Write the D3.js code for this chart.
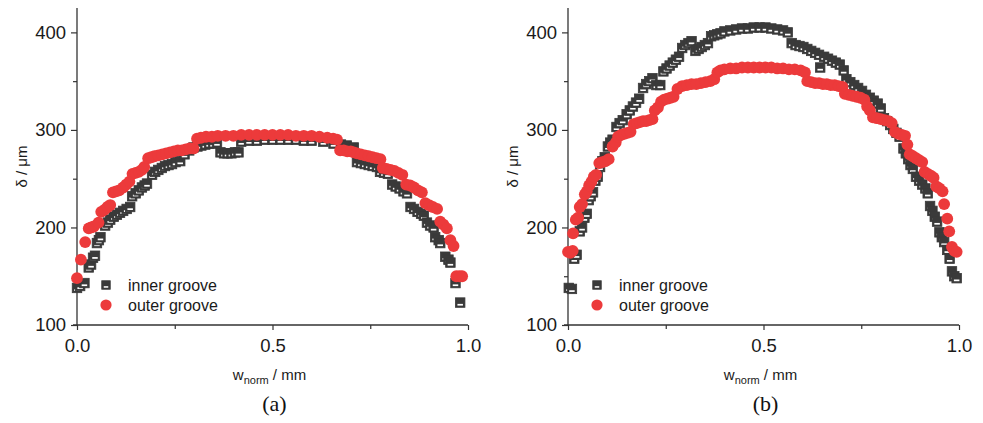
<!DOCTYPE html>
<html>
<head>
<meta charset="utf-8">
<script src="https://cdn.jsdelivr.net/npm/d3@7"></script>
<style>
  html, body { margin: 0; padding: 0; background: #fff; }
  svg { display: block; }
</style>
</head>
<body>
<svg id="chart" width="983" height="423"></svg>
<script>
// Groove depth profiles: [normalised width, depth in µm]
const innerA = [[0.000,138],[0.008,140],[0.019,143],[0.030,159],[0.036,162],[0.041,169],[0.046,171],[0.051,184],[0.056,187],[0.060,190],[0.072,202],[0.079,205],[0.085,208],[0.094,211],[0.102,213],[0.110,215],[0.118,217],[0.127,219],[0.136,221],[0.141,232],[0.150,235],[0.158,238],[0.166,241],[0.173,243],[0.179,245],[0.192,254],[0.200,257],[0.208,259],[0.217,261],[0.225,263],[0.234,264],[0.243,265],[0.252,267],[0.264,268],[0.275,275],[0.287,279],[0.298,282],[0.308,283],[0.318,284],[0.328,285],[0.338,286],[0.348,286],[0.358,287],[0.367,277],[0.376,276],[0.385,276],[0.395,276],[0.404,277],[0.413,277],[0.420,288],[0.440,289],[0.460,289],[0.480,290],[0.500,290],[0.520,290],[0.540,290],[0.560,290],[0.580,289],[0.600,289],[0.630,288],[0.656,286],[0.675,285],[0.690,284],[0.708,282],[0.716,267],[0.726,266],[0.736,265],[0.746,264],[0.756,263],[0.767,262],[0.775,257],[0.785,256],[0.795,255],[0.806,244],[0.815,242],[0.825,240],[0.835,237],[0.844,235],[0.853,221],[0.862,219],[0.871,216],[0.880,214],[0.887,212],[0.895,205],[0.903,202],[0.912,200],[0.916,190],[0.925,187],[0.929,184],[0.942,170],[0.950,167],[0.955,164],[0.968,143],[0.980,123]];

const outerA = [[0.000,148],[0.010,167],[0.021,185],[0.030,199],[0.036,200],[0.043,201],[0.055,205],[0.062,216],[0.070,218],[0.078,221],[0.085,223],[0.092,236],[0.100,237],[0.108,238],[0.118,241],[0.126,244],[0.134,247],[0.142,255],[0.150,256],[0.158,257],[0.166,259],[0.172,262],[0.182,271],[0.190,272],[0.198,273],[0.208,274],[0.218,275],[0.228,276],[0.238,277],[0.248,278],[0.258,279],[0.268,279],[0.278,280],[0.288,281],[0.298,281],[0.307,291],[0.317,292],[0.330,293],[0.345,293],[0.360,294],[0.380,294],[0.400,294],[0.420,295],[0.440,295],[0.460,295],[0.480,295],[0.500,295],[0.520,295],[0.540,295],[0.560,294],[0.580,294],[0.600,294],[0.620,293],[0.640,292],[0.655,291],[0.665,290],[0.673,279],[0.682,279],[0.691,278],[0.700,278],[0.708,277],[0.716,276],[0.726,275],[0.736,274],[0.746,273],[0.756,272],[0.766,271],[0.776,270],[0.782,261],[0.792,260],[0.802,259],[0.812,258],[0.822,256],[0.832,254],[0.842,244],[0.852,243],[0.862,241],[0.872,238],[0.882,236],[0.891,225],[0.900,223],[0.910,221],[0.921,219],[0.929,206],[0.937,203],[0.946,199],[0.955,187],[0.963,181],[0.970,150],[0.978,150],[0.985,150]];

const innerB = [[0.002,138],[0.010,137],[0.016,168],[0.022,172],[0.030,196],[0.036,200],[0.042,210],[0.048,214],[0.053,228],[0.058,232],[0.064,236],[0.070,248],[0.076,252],[0.082,262],[0.088,268],[0.094,272],[0.102,283],[0.108,287],[0.114,290],[0.124,303],[0.132,307],[0.140,310],[0.150,316],[0.158,320],[0.166,324],[0.174,328],[0.182,332],[0.192,343],[0.200,347],[0.208,350],[0.216,353],[0.226,346],[0.236,346],[0.244,360],[0.252,363],[0.260,366],[0.268,369],[0.276,372],[0.284,375],[0.292,384],[0.300,387],[0.308,389],[0.316,391],[0.326,381],[0.334,383],[0.342,385],[0.350,387],[0.358,389],[0.366,396],[0.374,397],[0.382,398],[0.390,399],[0.400,401],[0.415,402],[0.430,403],[0.445,404],[0.460,404],[0.475,405],[0.490,405],[0.505,405],[0.520,404],[0.535,403],[0.550,402],[0.562,400],[0.572,389],[0.582,387],[0.592,386],[0.602,385],[0.612,383],[0.622,381],[0.632,379],[0.642,377],[0.645,364],[0.655,375],[0.665,373],[0.675,371],[0.685,369],[0.695,367],[0.705,361],[0.712,352],[0.722,349],[0.732,346],[0.742,343],[0.752,340],[0.762,336],[0.772,333],[0.782,330],[0.792,327],[0.800,322],[0.808,312],[0.816,309],[0.824,305],[0.832,301],[0.840,297],[0.848,293],[0.858,281],[0.864,276],[0.870,270],[0.876,264],[0.882,260],[0.890,252],[0.898,248],[0.906,244],[0.914,240],[0.920,235],[0.926,222],[0.932,217],[0.938,211],[0.944,206],[0.950,195],[0.956,190],[0.962,185],[0.970,177],[0.976,168],[0.982,155],[0.988,150],[0.994,148]];

const outerB = [[0.000,175],[0.006,174],[0.012,176],[0.013,194],[0.020,208],[0.026,210],[0.030,221],[0.036,224],[0.043,234],[0.048,237],[0.054,243],[0.060,247],[0.066,252],[0.072,254],[0.080,266],[0.088,267],[0.096,268],[0.104,270],[0.114,283],[0.122,287],[0.128,293],[0.136,295],[0.144,296],[0.152,297],[0.160,298],[0.168,306],[0.176,307],[0.184,308],[0.192,309],[0.200,309],[0.208,310],[0.216,311],[0.222,320],[0.230,323],[0.238,329],[0.246,331],[0.254,332],[0.262,333],[0.270,334],[0.280,342],[0.292,345],[0.304,346],[0.316,347],[0.328,347],[0.340,348],[0.352,349],[0.364,350],[0.374,352],[0.382,359],[0.390,361],[0.400,362],[0.415,363],[0.430,363],[0.445,364],[0.460,364],[0.475,364],[0.490,364],[0.505,364],[0.520,364],[0.535,363],[0.550,363],[0.565,362],[0.580,362],[0.595,361],[0.606,359],[0.612,350],[0.622,349],[0.632,348],[0.642,348],[0.652,347],[0.662,347],[0.672,346],[0.682,346],[0.692,345],[0.702,344],[0.708,337],[0.718,336],[0.728,335],[0.738,334],[0.748,333],[0.758,331],[0.765,324],[0.772,320],[0.780,313],[0.790,312],[0.800,311],[0.810,310],[0.820,309],[0.828,307],[0.836,298],[0.845,296],[0.854,295],[0.862,294],[0.868,285],[0.874,275],[0.882,273],[0.890,271],[0.898,269],[0.906,267],[0.912,257],[0.920,255],[0.928,253],[0.935,251],[0.942,242],[0.950,240],[0.958,237],[0.962,224],[0.970,209],[0.975,196],[0.982,180],[0.988,176],[0.994,175]];

const seriesNames = ["inner groove", "outer groove"];
const panelLabels = ["(a)", "(b)"];
const yMajorTicks = [100, 200, 300, 400];
const yMinorTicks = [150, 250, 350];
const xMajorTicks = [0, 0.5, 1.0];
const xMinorTicks = [0.25, 0.75];

const panels = [
  { inner: innerA, outer: outerA, label: panelLabels[0], left: 77 },
  { inner: innerB, outer: outerB, label: panelLabels[1], left: 568 }
];

const plotW = 391, plotTop = 8, plotBottom = 325;
const axisColor = "#333";
const squareColor = "#3a3a3a";
const circleColor = "#ec3a3b";
const sansFont = "'Liberation Sans', Arial, sans-serif";

const svg = d3.select("#chart");

// half-filled square symbol: dark body with a light bar in its lower part
function drawSquare(g, cx, cy, s) {
  g.append("rect").attr("x", cx - s / 2).attr("y", cy - s / 2)
    .attr("width", s).attr("height", s)
    .attr("fill", squareColor).attr("stroke", squareColor).attr("stroke-width", 0.8);
  g.append("rect").attr("x", cx - s / 2 + 2).attr("y", cy + s * 0.14)
    .attr("width", s - 4).attr("height", s * 0.18)
    .attr("fill", "#fff");
}

panels.forEach(p => {
  const g = svg.append("g").attr("transform", `translate(${p.left},0)`);
  const x = d3.scaleLinear().domain([0, 1]).range([0, plotW]);
  const y = d3.scaleLinear().domain([100, 425]).range([plotBottom, plotTop]);

  const yAxis = d3.axisLeft(y).tickValues(yMajorTicks).tickSize(6).tickPadding(5).tickFormat(d3.format("d"));
  const yMinor = d3.axisLeft(y).tickValues(yMinorTicks).tickSize(4).tickFormat("");
  const xAxis = d3.axisBottom(x).tickValues(xMajorTicks).tickSize(5).tickPadding(9).tickFormat(d3.format(".1f"));
  const xMinor = d3.axisBottom(x).tickValues(xMinorTicks).tickSize(4).tickFormat("");

  g.append("g").call(yAxis);
  g.append("g").call(yMinor);
  g.append("g").attr("transform", `translate(0,${plotBottom})`).call(xAxis);
  g.append("g").attr("transform", `translate(0,${plotBottom})`).call(xMinor);

  g.selectAll(".domain").remove();
  g.selectAll(".tick line").attr("stroke", axisColor).attr("stroke-width", 1.2);
  g.selectAll(".tick text").attr("fill", "#1a1a1a").style("font-size", "18.5px").style("font-family", sansFont);

  // axis lines
  g.append("line").attr("x1", 0).attr("x2", 0).attr("y1", plotTop).attr("y2", plotBottom + 1)
    .attr("stroke", axisColor).attr("stroke-width", 1.3);
  g.append("line").attr("x1", -4).attr("x2", plotW).attr("y1", plotBottom).attr("y2", plotBottom)
    .attr("stroke", axisColor).attr("stroke-width", 1.3);

  // inner groove squares
  const sq = g.append("g");
  p.inner.forEach(d => drawSquare(sq, x(d[0]), y(d[1]), 9.5));

  // outer groove circles
  g.append("g").selectAll("circle").data(p.outer).join("circle")
    .attr("cx", d => x(d[0])).attr("cy", d => y(d[1])).attr("r", 5.9)
    .attr("fill", circleColor);

  // legend
  const lg = g.append("g");
  drawSquare(lg, 29, 285, 8.5);
  lg.append("circle").attr("cx", 29).attr("cy", 305).attr("r", 5.6).attr("fill", circleColor);
  lg.append("text").attr("x", 51).attr("y", 291).text(seriesNames[0])
    .style("font-family", sansFont).style("font-size", "16px").attr("fill", "#1a1a1a");
  lg.append("text").attr("x", 51).attr("y", 311).text(seriesNames[1])
    .style("font-family", sansFont).style("font-size", "16px").attr("fill", "#1a1a1a");

  // axis titles
  g.append("text").attr("transform", `translate(-55,${(plotTop + plotBottom) / 2}) rotate(-90)`)
    .attr("text-anchor", "middle").attr("dy", "0.35em")
    .style("font-family", sansFont).style("font-size", "15px").attr("fill", "#1a1a1a")
    .text("δ / μm");

  const xt = g.append("text").attr("x", plotW / 2 - 3).attr("y", 380).attr("text-anchor", "middle")
    .style("font-family", sansFont).style("font-size", "15px").attr("fill", "#1a1a1a");
  xt.append("tspan").text("w");
  xt.append("tspan").attr("dy", 4).style("font-size", "11px").text("norm");
  xt.append("tspan").attr("dy", -4).text(" / mm");

  g.append("text").attr("x", plotW / 2 + 2).attr("y", 411).attr("text-anchor", "middle")
    .style("font-family", "'Liberation Serif', 'Times New Roman', serif").style("font-size", "22px").attr("fill", "#111")
    .text(p.label);
});
</script>
</body>
</html>
